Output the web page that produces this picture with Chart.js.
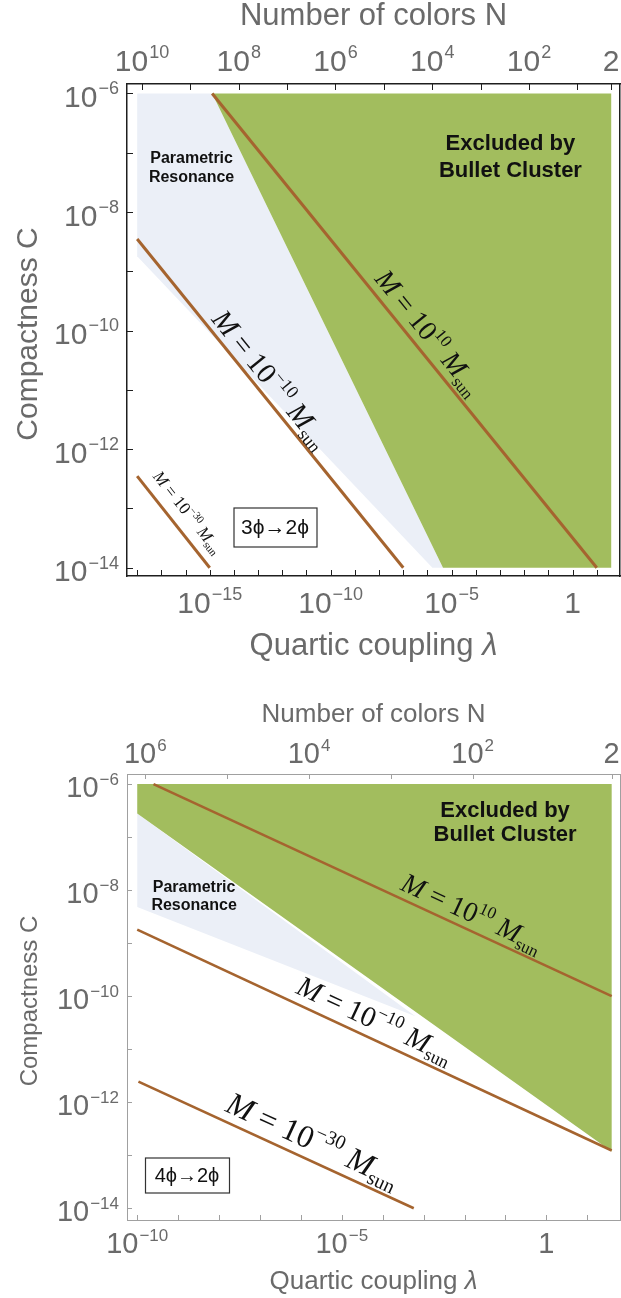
<!DOCTYPE html>
<html>
<head>
<meta charset="utf-8">
<script src="https://cdn.jsdelivr.net/npm/chart.js@4.4.0/dist/chart.umd.min.js"></script>
<style>
  html, body { margin: 0; padding: 0; background: #fff; }
  .panel { position: absolute; left: 0; width: 621px; }
</style>
</head>
<body>
<div class="panel" style="top:0;height:680px"><canvas id="chart3" width="621" height="680"></canvas></div>
<div class="panel" style="top:680px;height:618px"><canvas id="chart4" width="621" height="618"></canvas></div>
<script>
// ---- values ----
// 3phi -> 2phi panel
const lambdaRange3 = [10 ** -18.42, 10 ** 1.96];
const compactRange3 = [10 ** -14.14, 10 ** -5.84];
const bulletLambda3 = [1.26e-15, 39.5, 39.5, 4.4e-6];
const bulletC3 = [1e-6, 1e-6, 1e-14, 1e-14];
const resonanceLambda3 = [1e-18, 1.26e-15, 4.4e-6, 1.6e-6, 1e-18];
const resonanceC3 = [1e-6, 1e-6, 1e-14, 1e-14, 1.8e-9];
const massHiLambda3 = [1.26e-15, 10];
const massHiC3 = [1e-6, 1e-14];
const massMidLambda3 = [1e-18, 1e-7];
const massMidC3 = [3.5e-9, 1e-14];
const massLoLambda3 = [1e-18, 1e-15];
const massLoC3 = [3.5e-13, 1e-14];
const lambdaTicks3 = [1e-18, 1e-17, 1e-16, 1e-15, 1e-14, 1e-13, 1e-12, 1e-11, 1e-10, 1e-9,
                      1e-8, 1e-7, 1e-6, 1e-5, 1e-4, 1e-3, 1e-2, 1e-1, 1, 10];
const lambdaLabels3 = [1e-15, 1e-10, 1e-5, 1];
const colorTicks3 = [1e10, 1e9, 1e8, 1e7, 1e6, 1e5, 1e4, 1e3, 1e2, 10, 2];
const colorLabels3 = [1e10, 1e8, 1e6, 1e4, 1e2, 2];

// 4phi -> 2phi panel
const lambdaRange4 = [10 ** -10.25, 10 ** 1.8];
const compactRange4 = [10 ** -14.19, 10 ** -5.81];
const bulletLambda4 = [1e-10, 39.5, 39.5, 1e-10];
const bulletC4 = [1e-6, 1e-6, 1.17e-13, 2.8e-7];
const resonanceLambda4 = [1e-10, 6.3e-4, 1e-10];
const resonanceC4 = [2.8e-7, 4.2e-11, 4.8e-9];
const massHiLambda4 = [2.5e-10, 39.5];
const massHiC4 = [1e-6, 1e-10];
const massMidLambda4 = [1e-10, 39.5];
const massMidC4 = [1.8e-9, 1.23e-13];
const massLoLambda4 = [1.07e-10, 5.75e-4];
const massLoC4 = [2.45e-12, 1e-14];
const lambdaTicks4 = [1e-10, 1e-9, 1e-8, 1e-7, 1e-6, 1e-5, 1e-4, 1e-3, 1e-2, 1e-1, 1, 10];
const lambdaLabels4 = [1e-10, 1e-5, 1];
const colorTicks4 = [1e6, 1e5, 1e4, 1e3, 1e2, 2];
const colorLabels4 = [1e6, 1e4, 1e2, 2];

// shared C axis
const compactTicks = [1e-6, 1e-7, 1e-8, 1e-9, 1e-10, 1e-11, 1e-12, 1e-13, 1e-14];
const compactLabels = [1e-6, 1e-8, 1e-10, 1e-12, 1e-14];

const GREEN = '#a2bd5e';
const PALE = '#ebeff7';
const BROWN = '#a5642f';
const GREY = '#6a6a6a';
const SANS = '"Liberation Sans", Arial, "DejaVu Sans", sans-serif';
const SERIF = '"Liberation Serif", "DejaVu Serif", serif';

// N colours -> lambda, lambda = (4 pi)^2 / N^2
function colorsToLambda(n) {
  return Math.pow(4 * Math.PI, 2) / (n * n);
}

function pts(xs, ys) {
  return xs.map((x, i) => ({ x: x, y: ys[i] }));
}

function region(xs, ys, color, order) {
  return {
    data: pts(xs, ys), fill: 'shape', backgroundColor: color,
    borderColor: 'rgba(0,0,0,0)', borderWidth: 0, pointRadius: 0,
    order: order, xAxisID: 'x', yAxisID: 'y'
  };
}

function massLine(xs, ys, width) {
  return {
    data: pts(xs, ys), fill: false, borderColor: BROWN, borderWidth: width,
    pointRadius: 0, order: 1, xAxisID: 'x', yAxisID: 'y'
  };
}

function powSpec(v) {
  const k = Math.round(Math.log10(v));
  if (Math.abs(v / Math.pow(10, k) - 1) > 1e-6) return { base: String(v), exp: '' };
  if (k === 0) return { base: '1', exp: '' };
  return { base: '10', exp: k < 0 ? '\u2212' + (-k) : String(k) };
}

function drawPow(ctx, x, y, v, size, align) {
  const spec = powSpec(v);
  const small = Math.round(size * 0.6);
  ctx.textAlign = 'left';
  ctx.textBaseline = 'alphabetic';
  ctx.fillStyle = GREY;
  ctx.font = size + 'px ' + SANS;
  const w1 = ctx.measureText(spec.base).width;
  ctx.font = small + 'px ' + SANS;
  const w2 = spec.exp ? ctx.measureText(spec.exp).width + 1 : 0;
  const sx = align === 'right' ? x - w1 - w2 : x - (w1 + w2) / 2;
  ctx.font = size + 'px ' + SANS;
  ctx.fillText(spec.base, sx, y);
  if (spec.exp) {
    ctx.font = small + 'px ' + SANS;
    ctx.fillText(spec.exp, sx + w1 + 1, y - size * 0.42);
  }
}

// "Quartic coupling" with an italic lambda
function drawLambdaTitle(ctx, cx, y, size) {
  const a = 'Quartic coupling ', b = '\u03bb';
  ctx.font = size + 'px ' + SANS;
  const wa = ctx.measureText(a).width;
  ctx.font = 'italic ' + size + 'px ' + SANS;
  const wb = ctx.measureText(b).width;
  const sx = cx - (wa + wb) / 2;
  ctx.textAlign = 'left';
  ctx.font = size + 'px ' + SANS;
  ctx.fillText(a, sx, y);
  ctx.font = 'italic ' + size + 'px ' + SANS;
  ctx.fillText(b, sx + wa, y);
}

// "M = 10^k M_sun" written along a mass line
function drawMassLabel(ctx, cx, cy, angle, size, exp) {
  const small = Math.round(size * 0.62);
  const parts = [
    { t: 'M', f: 'italic ' + size + 'px ' + SERIF, dy: 0 },
    { t: ' = ', f: size + 'px ' + SERIF, dy: 0 },
    { t: '10', f: size + 'px ' + SERIF, dy: 0 },
    { t: exp, f: small + 'px ' + SERIF, dy: -size * 0.42 },
    { t: ' M', f: 'italic ' + size + 'px ' + SERIF, dy: 0 },
    { t: 'sun', f: small + 'px ' + SERIF, dy: size * 0.18 }
  ];
  let total = 0;
  parts.forEach(p => { ctx.font = p.f; p.w = ctx.measureText(p.t).width; total += p.w; });
  ctx.save();
  ctx.translate(cx, cy);
  ctx.rotate(angle);
  ctx.fillStyle = '#111';
  ctx.textAlign = 'left';
  ctx.textBaseline = 'alphabetic';
  let x = -total / 2;
  parts.forEach(p => {
    ctx.font = p.f;
    ctx.fillText(p.t, x, size * 0.3 + p.dy);
    x += p.w;
  });
  ctx.restore();
}

function decoPlugin(p) {
  return {
    id: 'deco',
    afterDraw(chart) {
      const ctx = chart.ctx;
      const sx = chart.scales.x, sy = chart.scales.y, st = chart.scales.xTop;
      const area = chart.chartArea;
      const px = v => sx.getPixelForValue(v);
      const py = v => sy.getPixelForValue(v);
      ctx.save();

      // inward tick marks
      ctx.strokeStyle = p.frameColor;
      ctx.lineWidth = 1;
      ctx.beginPath();
      sx.ticks.forEach(t => { const x = Math.round(px(t.value)) + 0.5; ctx.moveTo(x, area.bottom); ctx.lineTo(x, area.bottom - p.tickLen); });
      st.ticks.forEach(t => { const x = Math.round(st.getPixelForValue(t.value)) + 0.5; ctx.moveTo(x, area.top); ctx.lineTo(x, area.top + p.tickLen); });
      sy.ticks.forEach(t => { const y = Math.round(py(t.value)) + 0.5; ctx.moveTo(area.left, y); ctx.lineTo(area.left + p.tickLen, y); });
      ctx.stroke();

      // tick labels
      p.lambdaLabels.forEach(v => drawPow(ctx, px(v), area.bottom + p.bottomLabelDy, v, p.tickSize, 'center'));
      p.colorLabels.forEach(n => drawPow(ctx, st.getPixelForValue(colorsToLambda(n)), area.top + p.topLabelDy, n, p.tickSize, 'center'));
      compactLabels.forEach(v => drawPow(ctx, area.left - 8, py(v) + p.tickSize * 0.45, v, p.tickSize, 'right'));

      // axis titles
      const mid = (area.left + area.right) / 2;
      ctx.fillStyle = GREY;
      ctx.textAlign = 'center';
      ctx.textBaseline = 'alphabetic';
      ctx.font = p.topTitleSize + 'px ' + SANS;
      ctx.fillText('Number of colors N', mid, p.topTitleY);
      drawLambdaTitle(ctx, mid, p.bottomTitleY, p.bottomTitleSize);
      ctx.save();
      ctx.translate(37, (area.top + area.bottom) / 2 + 4);
      ctx.rotate(-Math.PI / 2);
      ctx.textAlign = 'center';
      ctx.font = p.leftTitleSize + 'px ' + SANS;
      ctx.fillText('Compactness C', 0, 0);
      ctx.restore();

      // region notes
      ctx.fillStyle = '#111';
      ctx.textAlign = 'center';
      p.notes.forEach(n => {
        ctx.font = 'bold ' + n.size + 'px ' + SANS;
        ctx.textBaseline = 'middle';
        const cx = px(n.at[0]), cy = py(n.at[1]);
        n.lines.forEach((s, i) => ctx.fillText(s, cx, cy + (i - (n.lines.length - 1) / 2) * n.gap));
      });

      // process box
      const b = p.box;
      const bx = Math.round(px(b.at[0])), by = Math.round(py(b.at[1]));
      ctx.fillStyle = '#fff';
      ctx.fillRect(bx - b.w / 2, by - b.h / 2, b.w, b.h);
      ctx.strokeStyle = '#333';
      ctx.lineWidth = 1.2;
      ctx.strokeRect(bx - b.w / 2 + 0.5, by - b.h / 2 + 0.5, b.w, b.h);
      ctx.fillStyle = '#111';
      ctx.font = b.size + 'px ' + SANS;
      ctx.textAlign = 'center';
      ctx.textBaseline = 'middle';
      ctx.fillText(b.text, bx, by + 1);

      // mass labels along their lines
      p.massLabels.forEach(m => {
        const d = chart.data.datasets[m.line].data;
        const a = Math.atan2(py(d[1].y) - py(d[0].y), px(d[1].x) - px(d[0].x));
        drawMassLabel(ctx, px(m.at[0]), py(m.at[1]), a, m.size, m.exp);
      });
      ctx.restore();
    }
  };
}

function buildPanel(canvasId, p) {
  const ctx = document.getElementById(canvasId).getContext('2d');
  const lambdaTop = p.colorTicks.map(colorsToLambda);
  const frame = { display: true, color: p.frameColor, width: p.frameWidth };
  const bare = { display: false };
  return new Chart(ctx, {
    type: 'line',
    data: {
      datasets: [
        region(p.resLambda, p.resC, PALE, 4),
        region(p.bulletLambda, p.bulletC, GREEN, 3),
        massLine(p.hiLambda, p.hiC, p.lineWidth),
        massLine(p.midLambda, p.midC, p.lineWidth),
        massLine(p.loLambda, p.loC, p.lineWidth)
      ]
    },
    options: {
      responsive: false,
      animation: false,
      events: [],
      layout: { padding: { left: 0, right: 1, top: 0, bottom: 0 } },
      plugins: { legend: { display: false }, tooltip: { enabled: false } },
      scales: {
        x: {
          type: 'logarithmic', position: 'bottom', min: p.lambdaRange[0], max: p.lambdaRange[1],
          afterBuildTicks: s => { s.ticks = p.lambdaTicks.map(v => ({ value: v })); },
          ticks: bare, grid: bare, border: frame,
          afterFit: s => { s.height = p.bottomH; }
        },
        xTop: {
          type: 'logarithmic', position: 'top', min: p.lambdaRange[0], max: p.lambdaRange[1],
          afterBuildTicks: s => { s.ticks = lambdaTop.map(v => ({ value: v })); },
          ticks: bare, grid: bare, border: frame,
          afterFit: s => { s.height = p.topH; }
        },
        y: {
          type: 'logarithmic', position: 'left', min: p.compactRange[0], max: p.compactRange[1],
          afterBuildTicks: s => { s.ticks = compactTicks.map(v => ({ value: v })); },
          ticks: bare, grid: bare, border: frame,
          afterFit: s => { s.width = 127; }
        },
        yRight: {
          type: 'logarithmic', position: 'right', min: p.compactRange[0], max: p.compactRange[1],
          ticks: bare, grid: bare, border: frame,
          afterFit: s => { s.width = 0; }
        }
      }
    },
    plugins: [decoPlugin(p)]
  });
}

buildPanel('chart3', {
  lambdaRange: lambdaRange3, compactRange: compactRange3,
  resLambda: resonanceLambda3, resC: resonanceC3,
  bulletLambda: bulletLambda3, bulletC: bulletC3,
  hiLambda: massHiLambda3, hiC: massHiC3,
  midLambda: massMidLambda3, midC: massMidC3,
  loLambda: massLoLambda3, loC: massLoC3,
  lambdaTicks: lambdaTicks3, lambdaLabels: lambdaLabels3,
  colorTicks: colorTicks3, colorLabels: colorLabels3,
  topH: 84, bottomH: 104, frameColor: '#1e1e1e', frameWidth: 1.5, lineWidth: 3,
  tickLen: 6, tickSize: 30, bottomLabelDy: 37, topLabelDy: -13,
  topTitleSize: 31, topTitleY: 25, bottomTitleSize: 31, bottomTitleY: 655, leftTitleSize: 30,
  notes: [
    { lines: ['Parametric', 'Resonance'], at: [10 ** -15.75, 10 ** -7.26], size: 16, gap: 19 },
    { lines: ['Excluded by', 'Bullet Cluster'], at: [10 ** -2.57, 10 ** -7.08], size: 22, gap: 27 }
  ],
  box: { text: '3\u03d5\u21922\u03d5', at: [10 ** -12.3, 10 ** -13.32], w: 83, h: 39, size: 21 },
  massLabels: [
    { line: 2, at: [10 ** -5.97, 10 ** -10.04], size: 28, exp: '10' },
    { line: 3, at: [10 ** -12.49, 10 ** -10.83], size: 29, exp: '\u221210' },
    { line: 4, at: [10 ** -15.92, 10 ** -13.07], size: 17, exp: '\u221230' }
  ]
});

buildPanel('chart4', {
  lambdaRange: lambdaRange4, compactRange: compactRange4,
  resLambda: resonanceLambda4, resC: resonanceC4,
  bulletLambda: bulletLambda4, bulletC: bulletC4,
  hiLambda: massHiLambda4, hiC: massHiC4,
  midLambda: massMidLambda4, midC: massMidC4,
  loLambda: massLoLambda4, loC: massLoC4,
  lambdaTicks: lambdaTicks4, lambdaLabels: lambdaLabels4,
  colorTicks: colorTicks4, colorLabels: colorLabels4,
  topH: 94, bottomH: 78, frameColor: '#a0a0a0', frameWidth: 1, lineWidth: 2.6,
  tickLen: 5, tickSize: 29, bottomLabelDy: 33, topLabelDy: -11,
  topTitleSize: 26, topTitleY: 42, bottomTitleSize: 26, bottomTitleY: 609, leftTitleSize: 24,
  notes: [
    { lines: ['Parametric', 'Resonance'], at: [10 ** -8.61, 10 ** -8.12], size: 16, gap: 18 },
    { lines: ['Excluded by', 'Bullet Cluster'], at: [10 ** -1.01, 10 ** -6.74], size: 22, gap: 24 }
  ],
  box: { text: '4\u03d5\u21922\u03d5', at: [10 ** -8.79, 10 ** -13.37], w: 84, h: 35, size: 20 },
  massLabels: [
    { line: 2, at: [10 ** -1.82, 10 ** -8.44], size: 28, exp: '10' },
    { line: 3, at: [10 ** -4.19, 10 ** -10.46], size: 29, exp: '\u221210' },
    { line: 4, at: [10 ** -5.71, 10 ** -12.73], size: 32, exp: '\u221230' }
  ]
});
</script>
</body>
</html>
